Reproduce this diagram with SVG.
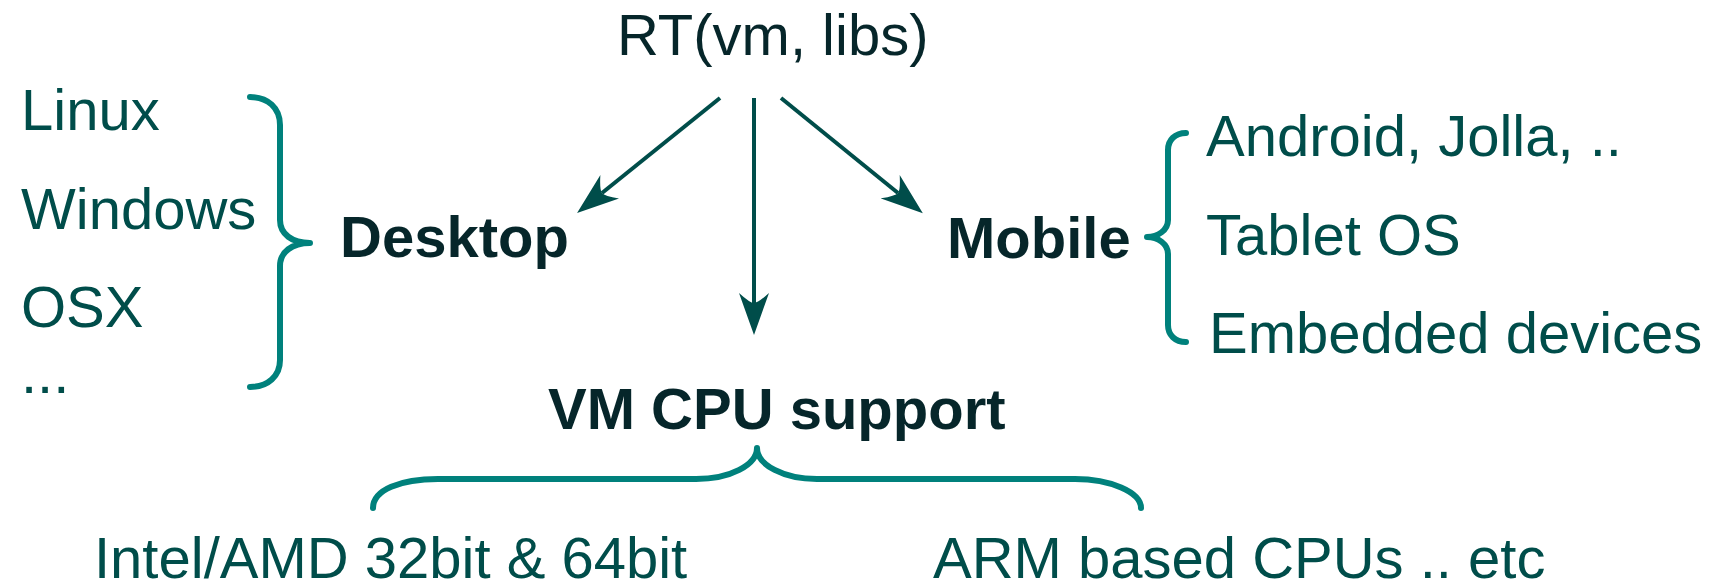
<svg xmlns="http://www.w3.org/2000/svg" width="1721" height="584" viewBox="0 0 1721 584">
<style>
text{font-family:"Liberation Sans",Arial,sans-serif;font-size:58px}
.item{fill:#004d4a}
.head{fill:#06262a}
.bold{fill:#06262a;font-weight:bold}
.brace{fill:none;stroke:#00817c;stroke-width:6;stroke-linecap:round;stroke-linejoin:round}
.conn{fill:none;stroke:#004d4a;stroke-width:4}
</style>
<defs>
<marker id="ah" markerUnits="userSpaceOnUse" markerWidth="44" markerHeight="32" viewBox="0 -16 44 32" refX="10" refY="0" orient="auto">
<path d="M42,0 L0,-15 Q10,-4 10,0 Q10,4 0,15 Z" fill="#004d4a"/>
</marker>
</defs>
<g id="rt"><text class="head" x="617" y="55">RT(vm, libs)</text></g>
<g id="desktop"><text class="bold" x="340" y="257">Desktop</text></g>
<g id="mobile"><text class="bold" x="947" y="258">Mobile</text></g>
<g id="vmcpu"><text class="bold" x="548" y="429">VM CPU support</text></g>
<g id="desktop-list">
<text class="item" x="21" y="130">Linux</text>
<text class="item" x="21" y="229">Windows</text>
<text class="item" x="21" y="327">OSX</text>
<text class="item" x="21" y="393">...</text>
<path class="brace" d="M250,97 C268,97 280,108 280,125 L280,220 C280,234 292,243 310,243 C292,243 280,252 280,266 L280,360 C280,376 268,387 250,387"/>
</g>
<g id="mobile-list">
<text class="item" x="1206" y="156">Android, Jolla, ..</text>
<text class="item" x="1206" y="255">Tablet OS</text>
<text class="item" x="1209" y="353">Embedded devices</text>
<path class="brace" d="M1186,133 C1175,133 1168,140 1168,150 L1168,220 C1168,230 1158,237 1147,237 C1158,237 1168,244 1168,254 L1168,325 C1168,335 1175,342 1186,342"/>
</g>
<g id="cpu-list">
<path class="brace" d="M373,508 C373,490 400,479 438,479 L696,479 C730,479 757,465 757,448 C757,465 784,479 817,479 L1075,479 C1110,479 1141,492 1141,508"/>
<text class="item" x="94" y="578">Intel/AMD 32bit &amp; 64bit</text>
<text class="item" x="933" y="578">ARM based CPUs .. etc</text>
</g>
<g id="connectors">
<line class="conn" x1="720" y1="98" x2="602" y2="193" marker-end="url(#ah)"/>
<line class="conn" x1="754" y1="98" x2="754" y2="303" marker-end="url(#ah)"/>
<line class="conn" x1="781" y1="98" x2="898" y2="193" marker-end="url(#ah)"/>
</g>
</svg>
